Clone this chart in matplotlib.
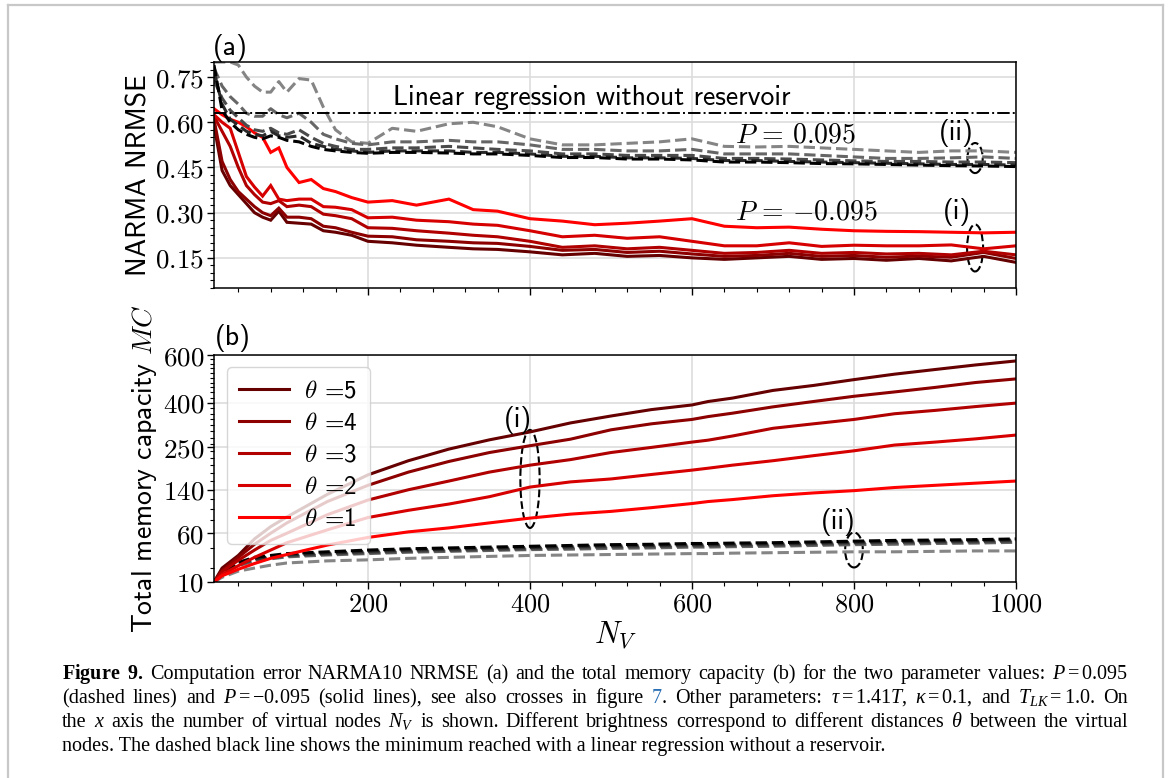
import matplotlib
matplotlib.use('Agg')
import matplotlib.pyplot as plt
from matplotlib.patches import Ellipse
from matplotlib.lines import Line2D
from matplotlib.ticker import MultipleLocator, FixedLocator
import numpy as np

plt.rcParams['mathtext.fontset'] = 'cm'
plt.rcParams['font.family'] = 'cmss10'
plt.rcParams['axes.unicode_minus'] = False
plt.rcParams['mathtext.rm'] = 'Liberation Serif'
plt.rcParams['mathtext.it'] = 'Liberation Serif:italic'
plt.rcParams['mathtext.bf'] = 'Liberation Serif:bold'

# ---------------- data ----------------
thetas = [5, 4, 3, 2, 1]

# panel (a): NARMA10 NRMSE
N_a = [10, 20, 30, 40, 50, 60, 70, 80, 90, 100, 115, 130, 145, 160, 180, 200, 230, 260, 300,
       330, 360, 400, 440, 480, 520, 560, 600, 640, 680, 720, 760, 800, 840, 880, 920, 960, 1000]

nrmse_neg = {  # P = -0.095, solid lines
    1: [0.645, 0.625, 0.61, 0.60, 0.585, 0.565, 0.55, 0.50, 0.515, 0.45, 0.40, 0.41, 0.38, 0.37, 0.35,
        0.335, 0.34, 0.325, 0.345, 0.31, 0.305, 0.28, 0.272, 0.26, 0.265, 0.272, 0.28, 0.255, 0.25,
        0.252, 0.245, 0.24, 0.238, 0.237, 0.235, 0.233, 0.235],
    2: [0.625, 0.60, 0.58, 0.50, 0.42, 0.385, 0.355, 0.39, 0.345, 0.34, 0.345, 0.345, 0.32, 0.318, 0.31,
        0.283, 0.285, 0.275, 0.27, 0.262, 0.258, 0.24, 0.22, 0.225, 0.215, 0.22, 0.205, 0.19, 0.19,
        0.20, 0.188, 0.192, 0.19, 0.19, 0.193, 0.18, 0.19],
    3: [0.62, 0.57, 0.52, 0.45, 0.39, 0.36, 0.335, 0.33, 0.34, 0.32, 0.325, 0.32, 0.295, 0.29, 0.28,
        0.25, 0.248, 0.24, 0.232, 0.225, 0.22, 0.205, 0.185, 0.19, 0.18, 0.185, 0.175, 0.165, 0.168,
        0.175, 0.165, 0.168, 0.163, 0.165, 0.16, 0.172, 0.16],
    4: [0.61, 0.47, 0.41, 0.37, 0.345, 0.32, 0.30, 0.29, 0.315, 0.285, 0.285, 0.28, 0.255, 0.25, 0.235,
        0.222, 0.22, 0.21, 0.205, 0.20, 0.198, 0.188, 0.175, 0.178, 0.168, 0.172, 0.163, 0.155, 0.158,
        0.165, 0.155, 0.158, 0.152, 0.156, 0.152, 0.168, 0.148],
    5: [0.59, 0.44, 0.39, 0.36, 0.33, 0.30, 0.285, 0.275, 0.305, 0.268, 0.265, 0.262, 0.24, 0.235, 0.225,
        0.205, 0.20, 0.192, 0.185, 0.18, 0.178, 0.17, 0.16, 0.165, 0.155, 0.158, 0.15, 0.145, 0.15,
        0.155, 0.145, 0.148, 0.142, 0.148, 0.14, 0.155, 0.135],
}

nrmse_pos = {  # P = 0.095, dashed lines
    1: [0.80, 0.80, 0.80, 0.79, 0.75, 0.72, 0.70, 0.70, 0.735, 0.70, 0.745, 0.74, 0.65, 0.575, 0.535,
        0.53, 0.58, 0.57, 0.595, 0.60, 0.585, 0.545, 0.525, 0.525, 0.53, 0.535, 0.545, 0.52, 0.518,
        0.52, 0.515, 0.51, 0.505, 0.50, 0.505, 0.505, 0.50],
    2: [0.78, 0.72, 0.685, 0.66, 0.63, 0.62, 0.62, 0.645, 0.625, 0.615, 0.63, 0.60, 0.56, 0.545, 0.53,
        0.525, 0.535, 0.535, 0.54, 0.535, 0.535, 0.525, 0.51, 0.51, 0.505, 0.505, 0.51, 0.495, 0.495,
        0.495, 0.49, 0.485, 0.48, 0.48, 0.482, 0.485, 0.48],
    3: [0.74, 0.68, 0.64, 0.615, 0.59, 0.575, 0.57, 0.58, 0.565, 0.56, 0.575, 0.55, 0.53, 0.52, 0.51,
        0.51, 0.515, 0.515, 0.52, 0.515, 0.51, 0.505, 0.495, 0.495, 0.49, 0.49, 0.49, 0.48, 0.48,
        0.478, 0.475, 0.472, 0.47, 0.47, 0.468, 0.468, 0.466],
    4: [0.77, 0.66, 0.61, 0.59, 0.57, 0.56, 0.555, 0.57, 0.555, 0.55, 0.555, 0.53, 0.52, 0.51, 0.505,
        0.50, 0.505, 0.505, 0.505, 0.50, 0.50, 0.495, 0.487, 0.487, 0.482, 0.482, 0.48, 0.473, 0.473,
        0.47, 0.468, 0.466, 0.464, 0.462, 0.46, 0.46, 0.458],
    5: [0.79, 0.64, 0.60, 0.575, 0.56, 0.55, 0.545, 0.555, 0.55, 0.54, 0.535, 0.52, 0.51, 0.505, 0.50,
        0.497, 0.50, 0.50, 0.498, 0.495, 0.495, 0.49, 0.483, 0.483, 0.478, 0.478, 0.475, 0.468, 0.468,
        0.466, 0.463, 0.462, 0.46, 0.458, 0.456, 0.455, 0.453],
}

linreg_nrmse = 0.632

# panel (b): total memory capacity
N_b = [10, 20, 40, 60, 80, 100, 150, 200, 250, 300, 350, 400, 450, 500, 550, 600, 620, 650,
       700, 750, 800, 850, 900, 950, 1000]

mc_neg = {  # solid
    5: [10, 20, 32, 52, 70, 86, 130, 175, 212, 245, 273, 298, 328, 352, 375, 392, 405, 418,
        448, 468, 492, 515, 535, 555, 573],
    4: [10, 18, 30, 45, 60, 76, 115, 150, 182, 210, 235, 255, 275, 305, 325, 340, 350, 362,
        385, 405, 425, 442, 460, 480, 495],
    3: [10, 17, 27, 38, 50, 60, 90, 118, 140, 160, 182, 200, 215, 235, 250, 266, 272, 285,
        310, 325, 340, 360, 372, 386, 399],
    2: [10, 15, 22, 30, 38, 47, 65, 85, 98, 110, 125, 146, 158, 165, 176, 187, 192, 200,
        212, 226, 240, 257, 266, 276, 288],
    1: [10, 14, 19, 24, 29, 33, 44, 54, 62, 68, 76, 84, 91, 96, 103, 111, 115, 119,
        127, 133, 138, 145, 150, 155, 160],
}

mc_pos = {  # dashed
    5: [10, 18, 25, 30, 32, 34, 36, 38, 39.5, 40.5, 41.5, 42.5, 43.5, 44.5, 45, 46, 46, 46.5,
        47, 48, 49, 50, 50.5, 51, 52],
    4: [10, 17, 24, 28.5, 30.5, 32.5, 34.5, 36.5, 38, 39, 40, 41, 42, 43, 43.5, 44.5, 44.5, 45,
        45.5, 46.5, 47.5, 48.5, 49, 49.5, 50.5],
    3: [10, 16.5, 23, 27.5, 29.5, 31.5, 33.5, 35, 36.5, 37.5, 38.5, 39.5, 40.5, 41.5, 42, 43, 43, 43.5,
        44, 45, 46, 47, 47.5, 48, 49],
    2: [10, 16, 22, 26.5, 28.5, 30.5, 32.5, 34, 35.5, 36.5, 37.5, 38.5, 39, 40, 40.5, 41.5, 41.5, 42,
        42.5, 43.5, 44.5, 45, 46, 46.5, 47.5],
    1: [10, 13, 17.5, 20, 22.5, 24.5, 26.5, 27.5, 29, 30, 31, 32, 32.5, 33, 33.5, 34, 34, 34.5,
        35, 35.5, 36, 36, 36.5, 37, 37],
}

red = {5: '#660000', 4: '#8c0000', 3: '#b00000', 2: '#d60000', 1: '#ff0000'}
gray = {5: '#000000', 4: '#2a2a2a', 3: '#4a4a4a', 2: '#666666', 1: '#858585'}

x_ticks = [200, 400, 600, 800, 1000]
a_yticks = [0.15, 0.30, 0.45, 0.60, 0.75]
b_yticks = [10, 60, 140, 250, 400, 600]

caption = [
    r"$\mathbf{Figure}$ $\mathbf{9.}$ Computation error NARMA10 NRMSE (a) and the total memory capacity (b) for the two parameter values: $P=0.095$",
    r"(dashed lines) and $P=-0.095$ (solid lines), see also crosses in figure {7}. Other parameters: $\tau=1.41T$, $\kappa=0.1$, and $T_{LK}=1.0$. On",
    r"the $x$ axis the number of virtual nodes $N_V$ is shown. Different brightness correspond to different distances $\theta$ between the virtual",
    r"nodes. The dashed black line shows the minimum reached with a linear regression without a reservoir.",
]

# ---------------- figure ----------------
W, H = 1168, 778
fig = plt.figure(figsize=(W / 100, H / 100), dpi=100)

L, R = 214 / W, 1016 / W
ax_a = fig.add_axes([L, 1 - 288 / H, R - L, 226 / H])
ax_b = fig.add_axes([L, 1 - 582 / H, R - L, 227 / H])

lw = 2.2
for t in thetas:
    ax_a.plot(N_a, nrmse_neg[t], color=red[t], lw=lw, solid_joinstyle='miter')
for t in [1, 2, 3, 4, 5]:
    ax_a.plot(N_a, nrmse_pos[t], color=gray[t], lw=lw, ls='--')
ax_a.axhline(linreg_nrmse, color='black', lw=1.4, ls='-.')

for t in [1, 2, 3, 4, 5]:
    ax_b.plot(N_b, mc_pos[t], color=gray[t], lw=lw, ls='--')
handles = []
for t in thetas:
    h, = ax_b.plot(N_b, mc_neg[t], color=red[t], lw=lw, label=r'$\theta$ =' + str(t))
    handles.append(h)

ax_b.set_yscale('function', functions=(np.sqrt, np.square))

for ax in (ax_a, ax_b):
    ax.set_xlim(10, 1000)
    ax.set_xticks(x_ticks)
    ax.xaxis.set_minor_locator(MultipleLocator(40))
    ax.grid(True, which='major', color='#dddddd', lw=1.2)
    ax.set_axisbelow(True)
    ax.tick_params(which='major', length=5, width=1, direction='out', labelsize=19)
    ax.tick_params(axis='y', which='major', pad=2)
    ax.tick_params(which='minor', length=3, width=0.8, direction='out')
    for s in ax.spines.values():
        s.set_linewidth(1.1)

ax_a.set_xticklabels([])
ax_b.set_xticklabels([r'$%d$' % v for v in x_ticks])

ax_a.set_ylim(0.05, 0.80)
ax_a.set_yticks(a_yticks)
ax_a.set_yticklabels([r'$%.2f$' % v for v in a_yticks], fontsize=19.5)
ax_a.yaxis.set_minor_locator(MultipleLocator(0.025))

ax_b.set_ylim(10, 600)
ax_b.set_yticks(b_yticks)
ax_b.set_yticklabels([r'$%d$' % v for v in b_yticks], fontsize=19.5)
ax_b.yaxis.set_minor_locator(FixedLocator(list(range(20, 600, 20))))

ax_a.set_ylabel('NARMA NRMSE', fontsize=20, labelpad=3)
ax_b.set_ylabel(r'Total memory capacity $MC$', fontsize=20, labelpad=3)
ax_b.set_xlabel(r'$N_V$', fontsize=22, labelpad=2)

leg = ax_b.legend(handles=handles, loc='upper left', fontsize=18, handlelength=2.0,
                  labelspacing=0.36, fancybox=True, framealpha=0.8, edgecolor='#cccccc',
                  borderpad=0.5, handletextpad=0.6)
leg.get_frame().set_linewidth(1.0)

# annotations panel (a)
ax_a.text(0.223, 0.81, 'Linear regression without reservoir', transform=ax_a.transAxes,
          fontsize=20, va='baseline')
ax_a.text(0.65, 0.677, r'$P\,=\,0.095$', transform=ax_a.transAxes, fontsize=20, va='center')
ax_a.text(0.65, 0.336, r'$P\,=\,{-}0.095$', transform=ax_a.transAxes, fontsize=20, va='center')
ax_a.text(0.926, 0.686, '(ii)', transform=ax_a.transAxes, fontsize=20, va='center', ha='center')
ax_a.text(0.926, 0.336, '(i)', transform=ax_a.transAxes, fontsize=20, va='center', ha='center')
ax_a.add_patch(Ellipse((0.949, 0.575), 0.019, 0.133, transform=ax_a.transAxes,
                       fill=False, ls='--', lw=1.5, ec='black'))
ax_a.add_patch(Ellipse((0.949, 0.177), 0.02, 0.208, transform=ax_a.transAxes,
                       fill=False, ls='--', lw=1.5, ec='black'))

# annotations panel (b)
ax_b.text(0.379, 0.714, '(i)', transform=ax_b.transAxes, fontsize=20, va='center', ha='center')
ax_b.text(0.778, 0.264, '(ii)', transform=ax_b.transAxes, fontsize=20, va='center', ha='center')
ax_b.add_patch(Ellipse((0.394, 0.454), 0.024, 0.432, transform=ax_b.transAxes,
                       fill=False, ls='--', lw=1.5, ec='black'))
ax_b.add_patch(Ellipse((0.798, 0.141), 0.022, 0.154, transform=ax_b.transAxes,
                       fill=False, ls='--', lw=1.5, ec='black'))

fig.text(213 / W, 1 - 62 / H, '(a)', fontsize=20, va='bottom')
fig.text(215 / W, 1 - 352 / H, '(b)', fontsize=20, va='bottom')

# frame around figure
bc = '#c8c8c8'
fig.add_artist(Line2D([8 / W, 8 / W], [0, 1 - 5 / H], color=bc, lw=1.6))
fig.add_artist(Line2D([1163 / W, 1163 / W], [0, 1 - 5 / H], color=bc, lw=1.6))
fig.add_artist(Line2D([8 / W, 1163 / W], [1 - 5 / H, 1 - 5 / H], color=bc, lw=1.6))

# caption, justified word by word (last line left aligned)
renderer = fig.canvas.get_renderer()
cap_left, cap_right = 62, 1128
cap_base = [679, 703, 727, 751]
cap_size = 14.5


def draw_word(x, y, word):
    if '{7}' in word:
        pre, post = word.split('{7}')
        parts = [(pre, 'black'), ('7', '#2a6fb5'), (post, 'black')]
    else:
        parts = [(word, 'black')]
    for s, c in parts:
        if not s:
            continue
        t = fig.text(x / W, 1 - y / H, s, fontsize=cap_size, family='Liberation Serif',
                     math_fontfamily='custom', color=c, va='baseline')
        x += t.get_window_extent(renderer).width
    return x


def word_width(word):
    t = fig.text(0, 0, word.replace('{7}', '7'), fontsize=cap_size, family='Liberation Serif',
                 math_fontfamily='custom')
    w = t.get_window_extent(renderer).width
    t.remove()
    return w


for i, line in enumerate(caption):
    if i == len(caption) - 1:
        fig.text(cap_left / W, 1 - cap_base[i] / H, line, fontsize=cap_size,
                 family='Liberation Serif', math_fontfamily='custom', va='baseline')
        continue
    words = line.split(' ')
    widths = [word_width(w) for w in words]
    gap = (cap_right - cap_left - sum(widths)) / (len(words) - 1)
    x = cap_left
    for w, wd in zip(words, widths):
        draw_word(x, cap_base[i], w)
        x += wd + gap

fig.savefig('out.png', dpi=100)
